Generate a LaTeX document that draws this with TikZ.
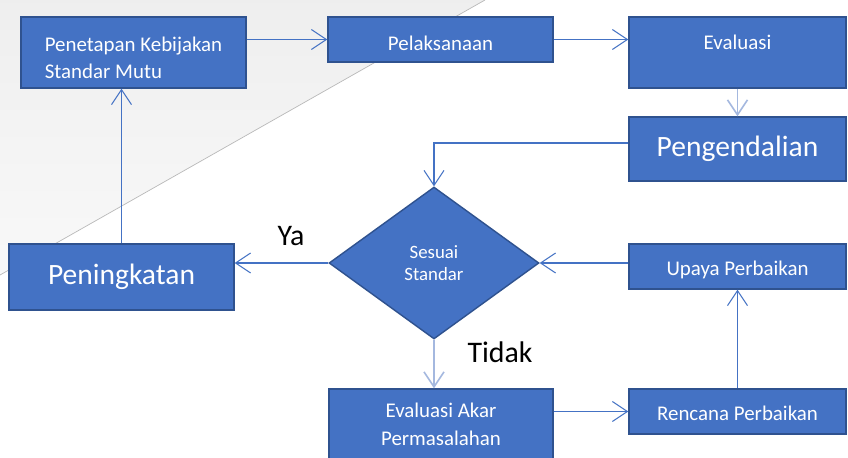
\documentclass[tikz,border=0pt]{standalone}
\usepackage{fontspec}
\setmainfont{Carlito}
\usetikzlibrary{arrows.meta,shapes.geometric,calc}

\definecolor{boxblue}{HTML}{4472C4}
\definecolor{boxedge}{HTML}{2F528F}
\definecolor{softblue}{HTML}{A4B8DF}

\begin{document}
\begin{tikzpicture}[
x=0.02cm,y=-0.02cm,
>={Straight Barb[length=0.3cm,width=0.4cm]},
box/.style={
	draw=boxedge,
	fill=boxblue,
	line width=0.8pt,
	text=white,
	font=\fontsize{11.9}{15.8}\selectfont,
	inner sep=0pt
},
single/.style={
	box,
	minimum height=0.9cm,
	text height=0.34cm,
	text depth=0pt
},
bigbox/.style={
	box,
	font=\fontsize{16.8}{19}\selectfont
},
decision/.style={
	box,
	diamond,
	align=center,
	font=\fontsize{10.7}{12.6}\selectfont
},
conn/.style={
	->,
	draw=boxblue,
	line width=0.6pt
},
softconn/.style={
	->,
	draw=softblue,
	line width=0.9pt
},
answer/.style={
	font=\fontsize{17}{20}\selectfont
}
]
\useasboundingbox (0,0) rectangle (848,457);
\clip (0,0) rectangle (848,457);
\fill[white] (0,0) rectangle (848,457);

% page corner
\shade[top color=gray!13,bottom color=gray!5] (0,0) -- (485,0) -- (0,275) -- cycle;
\draw[gray!55,line width=0.4pt] (485,0) -- (0,275);

\node[box,minimum width=4.5cm,minimum height=1.42cm,align=left] (pen) at (133.5,52.5) {\rule{0pt}{0.5cm}Penetapan Kebijakan\\Standar Mutu};
\node[single,minimum width=4.5cm,text height=0.44cm] (pel) at (440.5,39.5) {Pelaksanaan};
\node[box,minimum width=4.34cm,minimum height=1.42cm,text height=0.3cm,text depth=0.43cm] (eval) at (737.5,52.5) {Evaluasi};
\node[bigbox,minimum width=4.34cm,minimum height=1.28cm] (peng) at (737.5,149) {Pengendalian};
\node[decision,minimum width=4.2cm,minimum height=3.04cm] (sesuai) at (434,263) {Sesuai\\Standar};
\node[bigbox,minimum width=4.5cm,minimum height=1.32cm] (tingkat) at (121.5,277) {Peningkatan};
\node[single,minimum width=4.34cm] (upaya) at (737.5,266.5) {Upaya Perbaikan};
\node[single,minimum width=4.34cm] (rencana) at (737.5,411.5) {Rencana Perbaikan};
\node[box,minimum width=4.48cm,minimum height=1.42cm,align=center] (akar) at (441,424.5) {Evaluasi Akar\\Permasalahan};

\node[answer] (ya) at (291,236) {Ya};
\node[answer] (tidak) at (500,352) {Tidak};

\draw[conn] (pen.east |- pel.west) -- (pel.west);
\draw[conn] (pel.east) -- (pel.east -| eval.west);
\draw[softconn] (eval.south) -- (peng.north);
\draw[conn] ([yshift=0.12cm]peng.west) -| (sesuai.north);
\draw[conn] (upaya.west |- sesuai.east) -- (sesuai.east);
\draw[conn] (sesuai.west) -- (sesuai.west -| tingkat.east);
\draw[conn] (tingkat.north) -- (tingkat.north |- pen.south);
\draw[softconn] (sesuai.south) -- (sesuai.south |- akar.north);
\draw[conn] (akar.east |- rencana.west) -- (rencana.west);
\draw[conn] (rencana.north) -- (upaya.south);
\end{tikzpicture}
\end{document}
